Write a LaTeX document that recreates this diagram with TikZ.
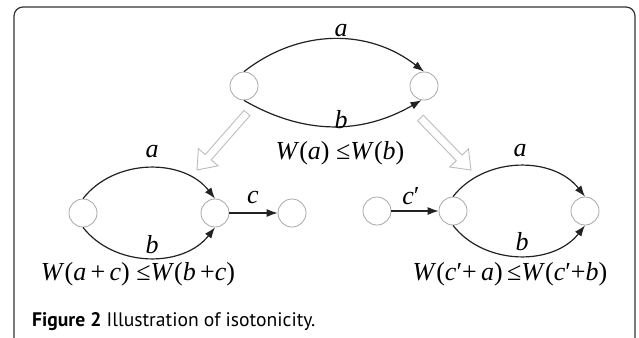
\documentclass[tikz,border=0pt]{standalone}
\usepackage{fontspec}
\setmainfont{Liberation Serif}
\newfontfamily\capfont{PT Sans}
\usetikzlibrary{arrows.meta}
\definecolor{arcc}{HTML}{222222}
\definecolor{nodec}{HTML}{A8A8A8}
\definecolor{hollowc}{HTML}{BDBDBD}
\definecolor{framec}{HTML}{333333}
\newcommand\mi[1]{\textit{#1}}
\tikzset{
  vtx/.style={circle,draw=nodec,line width=0.8pt,minimum size=28pt,inner sep=0pt},
  edg/.style={draw=arcc,line width=1.2pt,-{Latex[length=11pt,width=8pt]}},
  lbl/.style={inner sep=0pt,font=\fontsize{26}{26}\selectfont},
  hollow/.style={draw=hollowc,line width=0.9pt,fill=white},
}
\begin{document}
\begin{tikzpicture}[x=1pt,y=-1pt]
\useasboundingbox (0,0) rectangle (639,337);
\fill[white] (0,0) rectangle (639,337);
\begin{scope}
\clip (0,0) rectangle (639,337);
\draw[framec,line width=1.2pt,rounded corners=9pt] (14,7) rectangle (635,360);
\end{scope}
% top graph
\node[vtx] (A1) at (244,86) {};
\node[vtx] (A2) at (424,86) {};
\draw[edg] (A1.north) to[out=38,in=142] (A2.north);
\draw[edg] (A1.south) to[out=-30,in=-150] (A2.-100);
\node[lbl] (la) at (341,31) {\mi{a}};
\node[lbl] (lb) at (341,120) {\mi{b}};
\node[lbl] (fa) at (340,153) {\mi{W}(\mi{a}) ≤\mi{W}(\mi{b})};
% left graph
\node[vtx] (B1) at (83,213) {};
\node[vtx] (B2) at (215,213) {};
\node[vtx] (B3) at (292,213) {};
\draw[edg] (B1.north) to[out=52,in=128] (B2.north);
\draw[edg] (B1.south) to[out=-52,in=-128] (B2.south);
\draw[edg] (B2.east) -- (B3.west);
\node[lbl] (lba) at (152,152) {\mi{a}};
\node[lbl] (lbb) at (152,245) {\mi{b}};
\node[lbl] (lbc) at (253,197) {\mi{c}};
\node[lbl] (fb) at (138,274) {\mi{W}(\mi{a}\,+\,\mi{c}) ≤\mi{W}(\mi{b}\,+\mi{c})};
% right graph
\node[vtx] (C1) at (377,211) {};
\node[vtx] (C2) at (453,211) {};
\node[vtx] (C3) at (585,211) {};
\draw[edg] (C1.east) -- (C2.west);
\draw[edg] (C2.north) to[out=52,in=128] (C3.north);
\draw[edg] (C2.south) to[out=-52,in=-128] (C3.south);
\node[lbl] (lca) at (520,151) {\mi{a}};
\node[lbl] (lcb) at (522,242) {\mi{b}};
\node[lbl] (lcc) at (411,196) {\mi{c}′};
\node[lbl] (fc) at (510,274) {\mi{W}(\mi{c}′+\,\mi{a})\,≤\mi{W}(\mi{c}′+\mi{b})};
% hollow arrows
\draw[hollow] (250.0,115.6) -- (211.2,159.8) -- (218.0,165.8) -- (197,170) -- (198.4,148.6) -- (205.2,154.6) -- (244.0,110.4) -- cycle;
\draw[hollow] (423.4,115.2) -- (462.0,155.1) -- (468.4,148.8) -- (471,170) -- (449.8,167.0) -- (456.2,160.7) -- (417.6,120.8) -- cycle;
% caption
\node[anchor=base west,inner sep=0pt,font=\capfont\fontsize{19.6}{19.6}\selectfont] (cap) at (32,326) {\textbf{Figure 2} Illustration of isotonicity.};
\end{tikzpicture}
\end{document}
